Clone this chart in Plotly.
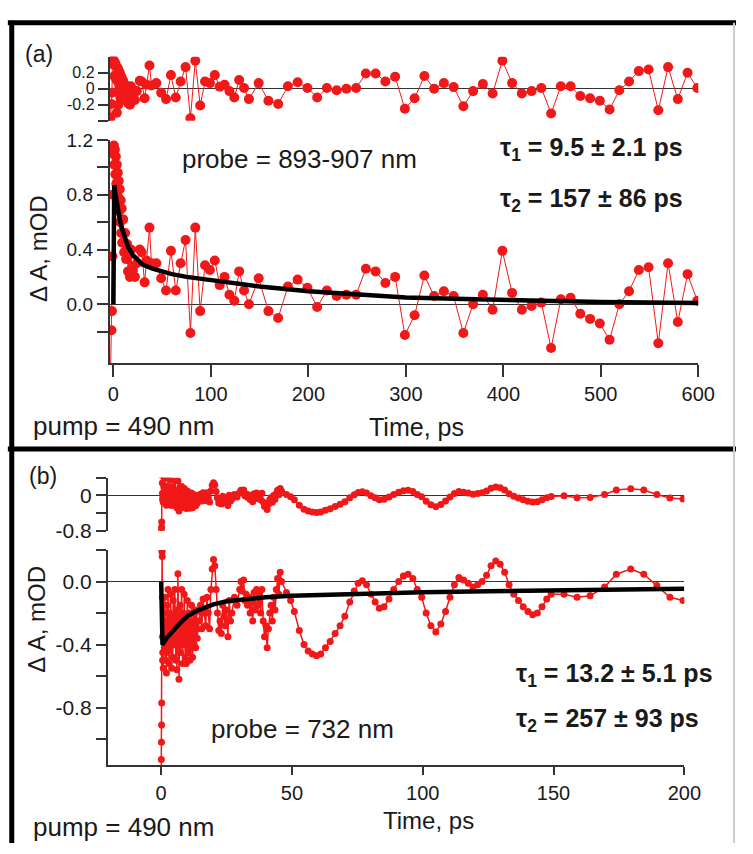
import plotly.graph_objects as go

# ---------------- DATA ----------------
# Panel (a): probe 893-907 nm
t_a = [-3, -2, -1.5, -1, -0.5, 0, 0.5, 1, 1.5, 2, 2.5, 3, 3.5, 4, 4.5, 5, 5.5, 6, 6.5, 7, 7.5, 8, 8.5, 9,
       10, 11, 12, 13, 14, 15, 16, 17, 18, 19, 20,
       22, 24, 27, 29, 32, 34, 37, 39,
       44, 49, 54, 59, 64, 69, 74, 79, 84, 89, 94, 99, 104, 109, 114, 119, 124, 129, 134, 139,
       149, 159, 169, 179, 189, 199, 209, 219, 229, 239, 249, 259, 269, 279, 289, 299, 309, 319, 329, 339,
       349, 359, 369, 379, 389, 399, 409, 419, 429, 439, 449, 459, 469, 479, 489, 499, 509, 519, 529, 539,
       549, 559, 569, 579, 589, 599]
dA_a = [-0.55, -0.19, -0.05, 0.35, 0.8, 1.1, 1.16, 1.02, 1.13, 0.95, 1.08, 0.88, 1.02, 0.82, 0.96, 0.78, 0.9, 0.68, 0.84, 0.6, 0.76, 0.52, 0.7, 0.45,
        0.62, 0.38, 0.52, 0.33, 0.44, 0.24, 0.36, 0.2, 0.4, 0.22, 0.25,
        0.2, 0.3, 0.4, 0.38, 0.16, 0.32, 0.56, 0.3,
        0.3, 0.19, 0.10, 0.39, 0.10, 0.30, 0.47, -0.21, 0.56, -0.05, 0.285, 0.25, 0.32, 0.14, 0.20, 0.07, 0.025, 0.24, 0.10, 0.0,
        0.19, -0.05, -0.10, 0.13, 0.18, 0.12, -0.02, 0.10, 0.06, 0.07, 0.07, 0.26, 0.24, 0.155, 0.20, -0.225, -0.08, 0.21, 0.06, 0.095,
        0.06, -0.21, 0.0, 0.07, -0.04, 0.39, 0.083, -0.04, -0.012, 0.012, -0.32, 0.036, 0.048, -0.07, -0.107, -0.14, -0.26, 0.0, 0.095, 0.25,
        0.27, -0.285, 0.30, -0.13, 0.22, 0.025]
res_a = [-0.36, -0.19, -0.05, 0.35, 0.37, 0.36, 0.3, 0.16, 0.33, 0.14, 0.3, 0.12, -0.3, 0.1, 0.26, -0.2, 0.22, 0.04, 0.2, -0.1, 0.16, -0.05, 0.14, -0.09,
         0.1, -0.12, 0.05, -0.12, 0.02, -0.18, -0.04, -0.2, 0.03, -0.15, -0.11,
         -0.14, -0.03, 0.1, 0.09, -0.12, 0.05, 0.29, 0.04,
         0.07, -0.05, -0.13, 0.17, -0.11, 0.09, 0.27, -0.37, 0.35, -0.21, 0.09, 0.07, 0.17, 0.025, 0.05, -0.03, -0.11, 0.11, 0.01, -0.13,
         0.07, -0.15, -0.19, 0.03, 0.08, 0.01, -0.11, 0.01, -0.02, 0.0, 0.01, 0.19, 0.19, 0.09, 0.15, -0.25, -0.12, 0.16, 0.0, 0.07,
         0.02, -0.22, -0.03, 0.06, -0.06, 0.35, 0.07, -0.06, -0.03, 0.01, -0.31, 0.03, 0.03, -0.09, -0.12, -0.15, -0.26, -0.02, 0.09, 0.22,
         0.24, -0.27, 0.27, -0.13, 0.2, 0.01]
fit_a_t = [0, 0.8, 2, 3, 4, 6, 8, 10, 12, 15, 20, 25, 30, 40, 50, 60, 75, 100, 125, 150, 200, 250, 300, 350, 400, 450, 500, 550, 600]
fit_a_v = [0, 0.87, 0.81, 0.76, 0.72, 0.64, 0.57, 0.52, 0.47, 0.42, 0.36, 0.32, 0.29, 0.26, 0.24, 0.22, 0.2, 0.175, 0.15, 0.13, 0.095, 0.07, 0.05, 0.04, 0.03, 0.022, 0.017, 0.013, 0.01]

# Panel (b): probe 732 nm
t_b = [0.0, 0.05, 0.1, 0.15, 0.2, 0.3, 0.35, 0.4, 0.45, 0.5, 0.55, 0.6,
       0.8, 1.0, 1.2, 1.4, 1.6, 1.8, 2.0, 2.2, 2.4, 2.6, 2.8, 3.0, 3.2, 3.4, 3.6, 3.8, 4.0, 4.2, 4.4, 4.6, 4.8, 5.0,
       5.2, 5.4, 5.6, 5.8, 6.0, 6.2, 6.4, 6.6, 6.8, 7.0, 7.2, 7.4, 7.6, 7.8, 8.0, 8.2, 8.4, 8.6, 8.8, 9.0, 9.2, 9.4,
       9.6, 9.8, 10.0, 10.2, 10.4, 10.6, 10.8, 11.0, 11.2, 11.4, 11.6, 11.8, 12.0, 12.2, 12.4, 12.6, 12.8, 13.0,
       13.2, 13.4, 13.6, 13.8, 14.0,
       14.5, 15, 15.5, 16, 16.5, 17, 17.5, 18, 18.5, 19, 19.5, 20, 20.5, 21, 21.5, 22, 22.5, 23, 23.5, 24, 24.5, 25, 25.5, 26, 26.5, 27,
       28, 29, 30, 30.5, 31, 31.5, 32, 32.5, 33, 33.5, 34, 34.5, 35, 35.5, 36, 36.5, 37, 37.5, 38, 38.5, 39, 39.5, 40, 40.5,
       41, 41.5, 42, 42.5, 43, 43.5, 44, 44.5, 45, 45.5, 46,
       47.9, 49.5, 50.9, 52.8, 54.6, 56.2, 57.8, 59.4, 61.0, 62.8, 64.6, 66.5, 68.4, 70.2, 72.1, 73.8, 75.3, 76.9, 78.5, 80.2,
       81.8, 83.4, 85.2, 87.1, 88.9, 90.8, 92.6, 94.4, 96.2, 97.9, 99.6, 101.3, 103.1, 105.0, 106.9, 108.7, 110.4, 112.1, 113.8, 115.6,
       117.4, 119.2, 121.0, 122.7, 124.4, 126.1, 127.9, 129.6, 131.3, 133.0, 134.8, 136.6, 138.4, 140.2, 142.0, 143.8, 145.6, 147.4, 149.1,
       154, 159, 164, 169.5, 174, 179.5, 184.5, 189.5, 194.5, 199.5]
dA_b = [-1.35, -1.13, -1.02, -0.91, -0.77, 0.19, 0.2, 0.16, -0.1, -0.35, -0.5, -0.45,
        -0.55, -0.2, -0.42, -0.1, -0.5, -0.25, -0.58, -0.15, -0.45, -0.05, -0.38, -0.52, -0.2, -0.42, -0.08, -0.35, -0.55, -0.22, -0.48, -0.12, -0.4, -0.25,
        -0.05, -0.35, -0.5, -0.18, -0.56, -0.3, 0.05, -0.25, -0.62, -0.4, -0.15, -0.45, -0.28, -0.05, -0.35, -0.52, -0.2, -0.4, -0.08, -0.3, -0.48, -0.22,
        -0.52, -0.3, -0.12, -0.38, -0.45, -0.2, -0.32, -0.5, -0.25, -0.42, -0.15, -0.35, -0.48, -0.28, -0.2, -0.4, -0.3, -0.18,
        -0.42, -0.26, -0.19, -0.36, -0.3,
        -0.25, -0.15, -0.3, -0.11, -0.2, -0.28, -0.1, -0.2, -0.3, -0.05, 0.08, 0.14, 0.1, -0.05, -0.2, -0.31, -0.25, -0.33, -0.15, -0.22, -0.28, -0.18, -0.35, -0.12, -0.25, -0.2,
        -0.1, -0.15, -0.05, 0.0, -0.06, 0.01, -0.12, -0.08, -0.15, -0.1, -0.2, -0.13, -0.25, -0.07, -0.18, -0.05, -0.15, -0.08, -0.2, -0.05, -0.25, -0.35, -0.28, -0.42,
        -0.3, -0.2, -0.15, -0.25, -0.1, -0.18, -0.05, 0.02, -0.08, 0.06, 0.0,
        -0.07, -0.12, -0.19, -0.31, -0.40, -0.44, -0.46, -0.47, -0.46, -0.42, -0.38, -0.33, -0.28, -0.22, -0.13, -0.06, -0.01, 0.005, -0.02, -0.08,
        -0.13, -0.17, -0.16, -0.11, -0.05, 0.0, 0.035, 0.047, 0.02, -0.05, -0.1, -0.2, -0.28, -0.32, -0.27, -0.19, -0.1, -0.02, 0.026, 0.01,
        -0.01, -0.035, -0.02, 0.0, 0.04, 0.1, 0.13, 0.11, 0.06, -0.02, -0.08, -0.12, -0.16, -0.19, -0.21, -0.2, -0.16, -0.11, -0.08,
        -0.08, -0.1, -0.09, -0.035, 0.047, 0.08, 0.047, -0.025, -0.1, -0.12]
res_b = [-0.9, -0.88, -0.8, -0.72, -0.6, 0.45, 0.48, 0.5, 0.28, 0.05, -0.1, -0.05,
         -0.155, 0.19, -0.035, 0.38, -0.127, 0.116, -0.22, 0.206, -0.098, 0.4, -0.036, -0.18, 0.136, -0.088, 0.35, -0.026, -0.23, 0.096, -0.168, 0.188, -0.096, 0.05,
         0.33, -0.058, -0.212, 0.104, -0.28, -0.023, 0.324, 0.021, -0.352, -0.135, 0.112, -0.191, -0.024, 0.203, -0.1, -0.273, 0.044, -0.159, 0.158, -0.065, -0.248, 0.009,
         -0.294, -0.077, 0.1, -0.162, -0.234, 0.014, -0.108, -0.29, -0.042, -0.214, 0.054, -0.148, -0.28, -0.082, -0.004, -0.206, -0.108, 0.01,
         -0.231, -0.072, -0.004, -0.175, -0.117,
         -0.07, 0.027, -0.127, 0.06, -0.033, -0.117, 0.06, -0.043, -0.146, 0.101, 0.228, 0.285, 0.243, 0.091, -0.06, -0.172, -0.114, -0.196, -0.018, -0.09, -0.153, -0.055, -0.226, 0.003, -0.128, -0.079,
         0.019, -0.033, 0.065, 0.115, 0.054, 0.124, -0.007, 0.032, -0.04, 0.01, -0.092, -0.022, -0.143, 0.036, -0.075, 0.055, -0.046, 0.023, -0.098, 0.052, -0.149, -0.25, -0.18, -0.32,
         -0.2, -0.1, -0.052, -0.152, -0.003, -0.084, 0.045, 0.115, 0.015, 0.155, 0.095,
         0.022, -0.029, -0.1, -0.22, -0.312, -0.353, -0.374, -0.385, -0.376, -0.337, -0.298, -0.249, -0.2, -0.14, -0.051, 0.018, 0.067, 0.081, 0.055, -0.006,
         -0.055, -0.096, -0.087, -0.038, 0.021, 0.07, 0.105, 0.116, 0.09, 0.019, -0.032, -0.132, -0.213, -0.254, -0.205, -0.126, -0.035, 0.045, 0.09, 0.074,
         0.054, 0.029, 0.043, 0.062, 0.102, 0.162, 0.192, 0.171, 0.121, 0.04, -0.02, -0.06, -0.1, -0.13, -0.15, -0.14, -0.1, -0.05, -0.024,
         -0.01, -0.05, -0.045, 0.02, 0.12, 0.15, 0.12, 0.02, -0.06, -0.08]
fit_b_t = [0, 0.5, 2, 4, 6, 8, 10, 13, 16, 20, 25, 30, 40, 50, 60, 75, 100, 125, 150, 175, 200]
fit_b_v = [0, -0.40, -0.36, -0.32, -0.28, -0.25, -0.22, -0.19, -0.17, -0.145, -0.125, -0.115, -0.1, -0.09, -0.085, -0.077, -0.068, -0.062, -0.056, -0.05, -0.045]

# ticks and tick labels
xticks_a = [0, 100, 200, 300, 400, 500, 600]
yticks_a = [0, 0.4, 0.8, 1.2]
ylabels_a = ["0.0", "0.4", "0.8", "1.2"]
yminor_a = [-0.2, 0.2, 0.6, 1.0]
rticks_a = [-0.2, 0, 0.2]
rlabels_a = ["-0.2", "0", "0.2"]
rminor_a = [-0.4]
xticks_b = [0, 50, 100, 150, 200]
yticks_b = [-0.8, -0.4, 0]
ylabels_b = ["-0.8", "-0.4", "0.0"]
yminor_b = [-1.0, -0.6, -0.2, 0.2]
rticks_b = [-0.8, 0]
rlabels_b = ["-0.8", "0"]
rminor_b = [-0.4, 0.4]

# ---------------- FIGURE ----------------
W, H = 753, 854
def px(x):
    return x / W
def py(y):
    return 1 - y / H

RED = "#f01818"
FONT = "Liberation Sans, Arial, Helvetica, sans-serif"
TXT = "#1a1a1a"
AX = "#333333"

fig = go.Figure()
# panel a
fig.add_trace(go.Scatter(x=t_a, y=dA_a, mode="lines+markers", line=dict(color=RED, width=1),
                         marker=dict(color=RED, size=10), xaxis="x", yaxis="y", showlegend=False))
fig.add_trace(go.Scatter(x=fit_a_t, y=fit_a_v, mode="lines", line=dict(color="black", width=4.5),
                         xaxis="x", yaxis="y", showlegend=False))
fig.add_trace(go.Scatter(x=t_a, y=res_a, mode="lines+markers", line=dict(color=RED, width=1),
                         marker=dict(color=RED, size=10), xaxis="x2", yaxis="y2", showlegend=False))
# panel b
fig.add_trace(go.Scatter(x=t_b, y=dA_b, mode="lines+markers", line=dict(color=RED, width=1.5),
                         marker=dict(color=RED, size=7), xaxis="x3", yaxis="y3", showlegend=False))
fig.add_trace(go.Scatter(x=fit_b_t, y=fit_b_v, mode="lines", line=dict(color="black", width=4.5),
                         xaxis="x3", yaxis="y3", showlegend=False))
fig.add_trace(go.Scatter(x=t_b, y=res_b, mode="lines+markers", line=dict(color=RED, width=1.5),
                         marker=dict(color=RED, size=7), xaxis="x4", yaxis="y4", showlegend=False))

common = dict(showgrid=False, showline=True, linecolor=AX, linewidth=1.5, ticks="outside",
              tickcolor=AX, tickwidth=1.5, mirror=False)

def minor(vals, ln):
    return dict(tickmode="array", tickvals=vals, ticks="outside", ticklen=ln, tickwidth=1.5,
                tickcolor=AX, showgrid=False)

xa_dom = [px(110.3), px(714.3)]
xb_dom = [px(108.3), px(700)]

fig.update_layout(
    width=W, height=H, margin=dict(l=0, r=0, t=0, b=0),
    paper_bgcolor="white", plot_bgcolor="white",
    font=dict(family=FONT, color=TXT),
    xaxis=dict(domain=xa_dom, range=[-4, 600], anchor="y", tickmode="array", tickvals=xticks_a, ticklen=12,
               tickfont=dict(size=20, color=TXT), zeroline=False, **common),
    yaxis=dict(domain=[py(362), py(133.3)], range=[-0.43, 1.2], anchor="x", tickmode="array",
               tickvals=yticks_a, ticktext=ylabels_a, ticklen=11, minor=minor(yminor_a, 11),
               tickfont=dict(size=19, color=TXT),
               zeroline=True, zerolinecolor=AX, zerolinewidth=1.2, **common),
    xaxis2=dict(domain=xa_dom, range=[-4, 600], anchor="y2", visible=False),
    yaxis2=dict(domain=[py(113.5), py(47.9)], range=[-0.4, 0.4], anchor="x2", tickmode="array",
                tickvals=rticks_a, ticktext=rlabels_a, ticklen=10, minor=minor(rminor_a, 10),
                tickfont=dict(size=16, color=TXT),
                zeroline=True, zerolinecolor=AX, zerolinewidth=1.2, **common),
    xaxis3=dict(domain=xb_dom, range=[-20.5, 200], anchor="y3", tickmode="array", tickvals=xticks_b,
                ticklen=8, ticklabelstandoff=1, tickfont=dict(size=20, color=TXT), zeroline=False, **common),
    yaxis3=dict(domain=[py(774), py(553.7)], range=[-1.164, 0.2], anchor="x3", tickmode="array",
                tickvals=yticks_b, ticktext=ylabels_b, ticklen=10, minor=minor(yminor_b, 10),
                tickfont=dict(size=21, color=TXT),
                zeroline=True, zerolinecolor=AX, zerolinewidth=1.2, **common),
    xaxis4=dict(domain=xb_dom, range=[-20.5, 200], anchor="y4", visible=False),
    yaxis4=dict(domain=[py(534), py(479.5)], range=[-0.8, 0.4], anchor="x4", tickmode="array",
                tickvals=rticks_b, ticktext=rlabels_b, ticklen=10, minor=minor(rminor_b, 10),
                tickfont=dict(size=21, color=TXT),
                zeroline=True, zerolinecolor=AX, zerolinewidth=1.2, **common),
)

def ann(text, x, y, size, xanchor="center", angle=0):
    fig.add_annotation(text=text, x=px(x), y=py(y), xref="paper", yref="paper", showarrow=False,
                       xanchor=xanchor, yanchor="middle", textangle=angle,
                       font=dict(size=size, family=FONT, color=TXT))

ann("(a)", 38, 45, 23)
ann("(b)", 42, 478, 23)
ann("probe = 893-907 nm", 305, 153, 26)
ann("<b>τ<sub>1</sub> = 9.5 ± 2.1 ps</b>", 509, 143, 25, "left")
ann("<b>τ<sub>2</sub> = 157 ± 86 ps</b>", 509, 195, 25, "left")
ann("pump = 490 nm", 30, 426, 26, "left")
ann("Time, ps", 425, 427, 25)
ann("Δ A, mOD", 38, 245, 24, angle=-90)
ann("probe = 732 nm", 308, 737, 26)
ann("<b>τ<sub>1</sub> = 13.2 ± 5.1 ps</b>", 525, 682, 25, "left")
ann("<b>τ<sub>2</sub> = 257 ± 93 ps</b>", 525, 728, 25, "left")
ann("pump = 490 nm", 30, 838, 26, "left")
ann("Time, ps", 438, 831, 24)
ann("Δ A, mOD", 36, 625, 24, angle=-90)

def frame_line(x0, y0, x1, y1, w, c="black"):
    fig.add_shape(type="line", xref="paper", yref="paper", x0=px(x0), y0=py(y0), x1=px(x1), y1=py(y1),
                  line=dict(color=c, width=w))

frame_line(6, 13, 753, 13, 5)
frame_line(10, 11, 10, 854, 5)
frame_line(6, 450, 753, 450, 5)
frame_line(751, 13, 751, 854, 2, "#cccccc")

fig.write_html("out.html")
